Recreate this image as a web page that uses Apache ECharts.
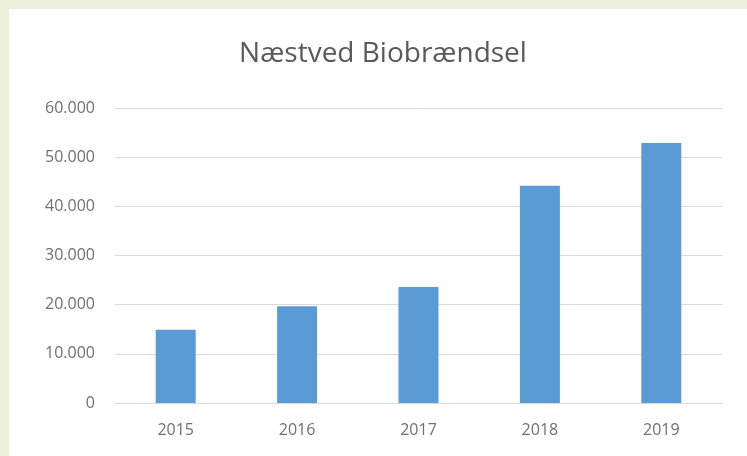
<!DOCTYPE html>
<html>
<head>
<meta charset="utf-8">
<script src="https://cdn.jsdelivr.net/npm/echarts@6/dist/echarts.min.js"></script>
<style>
html,body{margin:0;padding:0;width:747px;height:456px;background:#edf1dc;overflow:hidden;}
#card{position:absolute;left:9px;top:9px;width:738px;height:447px;background:#ffffff;}
#chart{position:absolute;left:0;top:0;width:747px;height:456px;}
</style>
</head>
<body>
<div id="card"></div>
<div id="chart"></div>
<script>
const titleText = 'Næstved Biobrændsel';
const categories = ['2015', '2016', '2017', '2018', '2019'];
const values = [14900, 19700, 23600, 44200, 52900];
const yTicks = [0, 10000, 20000, 30000, 40000, 50000, 60000];

const chart = echarts.init(document.getElementById('chart'), null, {renderer: 'canvas'});
const fmt = v => v === 0 ? '0' : String(v).replace(/\B(?=(\d{3})+(?!\d))/g, '.');
chart.setOption({
  backgroundColor: 'transparent',
  animation: false,
  title: {
    text: titleText,
    left: 378,
    top: 35,
    textAlign: 'center',
    textStyle: {fontFamily: 'Open Sans', fontSize: 28, fontWeight: 'normal', color: '#595959'}
  },
  grid: {left: 115, right: 25, top: 108, bottom: 53},
  xAxis: {
    type: 'category',
    data: categories,
    axisTick: {show: false},
    axisLine: {lineStyle: {color: '#d9d9d9', width: 1}},
    axisLabel: {fontFamily: 'Open Sans', fontSize: 16, color: '#707070', margin: 19}
  },
  yAxis: {
    type: 'value',
    min: yTicks[0],
    max: yTicks[yTicks.length - 1],
    interval: yTicks[1] - yTicks[0],
    axisLine: {show: false},
    axisTick: {show: false},
    splitLine: {lineStyle: {color: '#d9d9d9', width: 1}},
    axisLabel: {fontFamily: 'Open Sans', fontSize: 16, color: '#707070', margin: 20, formatter: fmt}
  },
  series: [{
    type: 'bar',
    data: values,
    barWidth: 40,
    itemStyle: {color: '#5b9bd5'}
  }]
});
</script>
</body>
</html>
